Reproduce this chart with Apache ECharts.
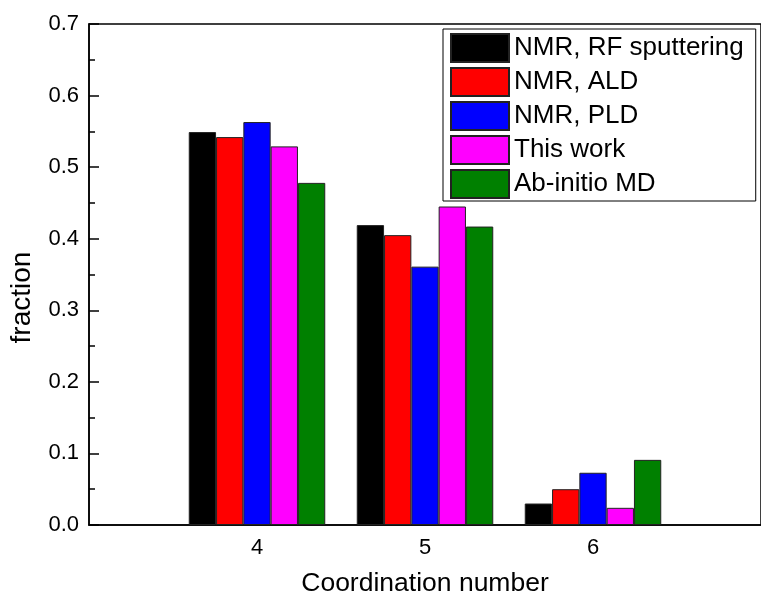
<!DOCTYPE html>
<html>
<head>
<meta charset="utf-8">
<script src="https://cdn.jsdelivr.net/npm/echarts@6/dist/echarts.min.js"></script>
<style>
  html, body { margin: 0; padding: 0; background: #fff; }
  #chart { width: 761px; height: 602px; }
</style>
</head>
<body>
<div id="chart"></div>
<script>
// Coordination numbers shown on the x axis
const coordination = [4, 5, 6];

// Fraction of sites per coordination number, one array per source
const nmrRfSputtering = [0.549, 0.419, 0.030];
const nmrAld          = [0.542, 0.405, 0.050];
const nmrPld          = [0.563, 0.361, 0.073];
const thisWork        = [0.529, 0.445, 0.024];
const abInitioMd      = [0.478, 0.417, 0.091];

const seriesNames  = ['NMR, RF sputtering', 'NMR, ALD', 'NMR, PLD', 'This work', 'Ab-initio MD'];
const seriesValues = [nmrRfSputtering, nmrAld, nmrPld, thisWork, abInitioMd];
const seriesColors = ['#000000', '#ff0000', '#0000ff', '#ff00ff', '#008000'];

const FONT = 'Liberation Sans, Arial, Helvetica, sans-serif';

const chart = echarts.init(document.getElementById('chart'), null, { renderer: 'canvas' });

chart.setOption({
  backgroundColor: '#ffffff',
  animation: false,
  textStyle: { fontFamily: FONT, color: '#000' },
  grid: {
    left: 88,
    top: 24,
    width: 683,
    bottom: 70,
    show: true,
    borderColor: '#000',
    borderWidth: 1.5,
    backgroundColor: 'transparent'
  },
  legend: {
    left: 443,
    top: 29,
    orient: 'vertical',
    data: seriesNames,
    icon: 'rect',
    itemWidth: 58,
    itemHeight: 28,
    itemGap: 4,
    padding: [4, 12, 2, 7],
    borderColor: '#000',
    borderWidth: 1,
    backgroundColor: '#fff',
    textStyle: { fontFamily: FONT, fontSize: 26, color: '#000', lineHeight: 28, height: 28 },
    selectedMode: false
  },
  xAxis: {
    type: 'value',
    min: 3,
    max: 7,
    interval: 1,
    name: 'Coordination number',
    nameLocation: 'middle',
    nameGap: 45,
    nameTextStyle: { fontFamily: FONT, fontSize: 26.5, color: '#000' },
    axisLine: { show: true, lineStyle: { color: '#000', width: 1.5 } },
    axisTick: { show: true, inside: true, length: 8, lineStyle: { color: '#000', width: 1.5 } },
    axisLabel: {
      show: true,
      showMinLabel: false,
      showMaxLabel: false,
      margin: 12,
      fontFamily: FONT,
      fontSize: 22,
      color: '#000',
      formatter: v => (coordination.indexOf(v) >= 0 ? String(v) : '')
    },
    splitLine: { show: false }
  },
  yAxis: {
    type: 'value',
    min: 0,
    max: 0.7,
    interval: 0.1,
    name: 'fraction',
    nameLocation: 'middle',
    nameGap: 53,
    nameTextStyle: { fontFamily: FONT, fontSize: 28, color: '#000', padding: [0, 46, 0, 0] },
    axisLine: { show: true, lineStyle: { color: '#000', width: 1.5 } },
    axisTick: { show: true, inside: true, length: 10, lineStyle: { color: '#000', width: 1.5 } },
    minorTick: { show: true, splitNumber: 2, length: 6, lineStyle: { color: '#000', width: 1.5 } },
    axisLabel: {
      margin: 10,
      fontFamily: FONT,
      fontSize: 22,
      color: '#000',
      formatter: v => v.toFixed(1)
    },
    splitLine: { show: false }
  },
  series: seriesNames.map((name, i) => ({
    name: name,
    type: 'bar',
    barWidth: 27.3,
    barGap: '0%',
    itemStyle: {
      color: seriesColors[i],
      borderColor: '#222',
      borderWidth: 1
    },
    data: coordination.map((c, j) => [c, seriesValues[i][j]])
  }))
});
</script>
</body>
</html>
